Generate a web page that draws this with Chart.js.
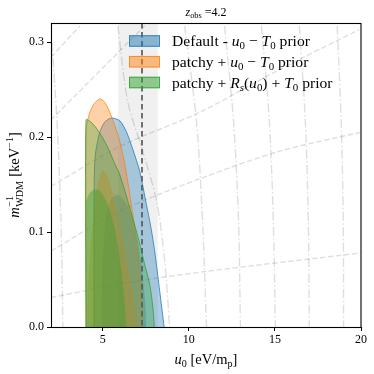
<!DOCTYPE html>
<html><head><meta charset="utf-8">
<script src="https://cdn.jsdelivr.net/npm/chart.js@4/dist/chart.umd.min.js"></script>
<style>html,body{margin:0;padding:0;background:#fff}#wrap{width:374px;height:374px}</style>
</head><body><div id="wrap"><canvas id="c" width="374" height="374"></canvas></div>
<script>
// ---- axes / annotations ----
const xRange = [2, 20];
const yRange = [0, 0.32];
const xTicks = [5, 10, 15, 20];
const yTicks = [0.0, 0.1, 0.2, 0.3];
const zObs = "4.2";
const bandU = [5.9, 8.2];      // grey shaded band
const refLineU = 7.3;          // dashed vertical line

// ---- series labels (rich text segments) ----
const labelDefault = [["Default - ","r"],["u","i"],["0","sub"],[" \u2212 ","r"],["T","i"],["0","sub"],[" prior","r"]];
const labelPatchy  = [["patchy + ","r"],["u","i"],["0","sub"],[" \u2212 ","r"],["T","i"],["0","sub"],[" prior","r"]];
const labelPatchyRs= [["patchy + ","r"],["R","i"],["s","subi"],["(","r"],["u","i"],["0","sub"],[") + ","r"],["T","i"],["0","sub"],[" prior","r"]];

// ---- contour boundaries (u0, 1/m_WDM) ----
const blueOuterU = [4.50,4.50,4.52,4.60,4.84,5.13,5.52,6.00,6.38,6.75,7.15,7.54,7.79,8.02,8.31,8.57];
const blueOuterM = [0,0.132,0.164,0.185,0.2055,0.216,0.220,0.217,0.2055,0.187,0.164,0.129,0.106,0.080,0.038,0];
const blueInnerU = [4.94,4.97,5.03,5.22,5.50,5.90,6.30,6.67,7.00,7.25,7.45,7.54];
const blueInnerM = [0,0.050,0.077,0.119,0.135,0.139,0.132,0.118,0.094,0.066,0.030,0];

const orangeOuterU = [4.03,4.03,4.10,4.26,4.50,4.84,5.10,5.32,5.71,6.00,6.28,6.57,6.86,7.10,7.25,7.33];
const orangeOuterM = [0,0.2055,0.215,0.226,0.235,0.240,0.237,0.230,0.212,0.195,0.172,0.140,0.105,0.065,0.030,0];
const orangeInnerU = [4.10,4.15,4.26,4.45,4.65,4.99,5.25,5.51,5.80,6.10,6.40,6.70,6.90,7.05];
const orangeInnerM = [0,0.040,0.077,0.115,0.146,0.1655,0.160,0.146,0.125,0.098,0.070,0.040,0.018,0];

const greenOuterU = [4.03,4.03,4.30,4.65,5.00,5.32,5.70,6.00,6.50,7.06,7.45,7.73,7.92,8.00];
const greenOuterM = [0,0.218,0.216,0.209,0.199,0.188,0.172,0.160,0.130,0.094,0.065,0.045,0.020,0];
const greenInnerU = [4.03,4.03,4.10,4.30,4.60,4.90,5.22,5.50,5.71,5.90,6.09,6.25,6.38];
const greenInnerM = [0,0.130,0.136,0.142,0.145,0.142,0.132,0.118,0.104,0.083,0.059,0.030,0];

// ---- faint background guide curves ----
const dashU = [
  [2.0, 6.57, 11.21, 20.0],
  [2.0, 6.0, 10.63, 15.26, 20.0],
  [2.0, 6.0, 10.63, 15.26, 19.9],
  [2.0, 7.44],
  [2.0, 3.68]
];
const dashM = [
  [0.031, 0.047, 0.059, 0.078],
  [0.080, 0.122, 0.156, 0.185, 0.205],
  [0.148, 0.190, 0.226, 0.271, 0.313],
  [0.218, 0.317],
  [0.284, 0.317]
];
const dashDotU = [
  [2.06, 2.35, 2.58, 2.69],
  [5.88, 6.46, 7.33, 8.14, 8.60, 8.89],
  [9.76, 10.45, 10.80, 11.03],
  [12.08, 12.60, 12.89, 13.00],
  [14.22, 14.68, 14.91, 15.03],
  [16.42, 16.77, 16.94, 17.00],
  [18.62, 18.85, 18.97, 18.99]
];
const dashDotM = [
  [0.299, 0.216, 0.111, 0],
  [0.317, 0.237, 0.185, 0.132, 0.070, 0],
  [0.317, 0.216, 0.111, 0],
  [0.317, 0.216, 0.111, 0],
  [0.317, 0.216, 0.111, 0],
  [0.317, 0.216, 0.111, 0],
  [0.317, 0.216, 0.111, 0]
];

const C_BLUE = [31,119,180], C_ORANGE = [255,127,14], C_GREEN = [44,160,44];
const rgba = (c,a)=>`rgba(${c[0]},${c[1]},${c[2]},${a})`;
const pts = (u,m)=>u.map((x,i)=>({x:x, y:m[i]}));
const SERIF = '"Liberation Serif", "DejaVu Serif", serif';

const datasets = [];
dashU.forEach((u,i)=>datasets.push({data:pts(u,dashM[i]), borderColor:'rgba(0,0,0,0.13)', borderWidth:1.4, borderDash:[5.5,2.5], pointRadius:0, fill:false, tension:0.3, order:100}));
dashDotU.forEach((u,i)=>datasets.push({data:pts(u,dashDotM[i]), borderColor:'rgba(0,0,0,0.13)', borderWidth:1.4, borderDash:[9,2.5,1.5,2.5], pointRadius:0, fill:false, tension:0.3, order:100}));

function contour(u,m,c,alpha,edge,order){
  return {data:pts(u,m), borderColor: edge ? rgba(c,0.85) : 'rgba(0,0,0,0)', borderWidth: edge?0.9:0,
          backgroundColor: rgba(c,alpha), fill:'origin', pointRadius:0, tension:0.25, order:order};
}
datasets.push(contour(blueOuterU, blueOuterM, C_BLUE, 0.36, true, 60));
datasets.push(contour(blueInnerU, blueInnerM, C_BLUE, 0.33, false, 50));
datasets.push(contour(orangeOuterU, orangeOuterM, C_ORANGE, 0.36, true, 40));
datasets.push(contour(orangeInnerU, orangeInnerM, C_ORANGE, 0.33, false, 30));
datasets.push(contour(greenOuterU, greenOuterM, C_GREEN, 0.32, true, 20));
datasets.push(contour(greenInnerU, greenInnerM, C_GREEN, 0.38, false, 10));

// rich text helpers
function segFont(type,size){
  const s = (type==='sub'||type==='subi'||type==='sup') ? size*0.7 : size;
  const it = (type==='i'||type==='subi') ? 'italic ' : '';
  return it + s + 'px ' + SERIF;
}
function richWidth(ctx,segs,size){
  let w=0; segs.forEach(([t,ty])=>{ctx.font=segFont(ty,size); w+=ctx.measureText(t).width;}); return w;
}
function drawRich(ctx,segs,x,y,size,align){
  let w = richWidth(ctx,segs,size);
  let cx = align==='center' ? x - w/2 : x;
  ctx.textBaseline='alphabetic'; ctx.textAlign='left'; ctx.fillStyle='#000';
  segs.forEach(([t,ty])=>{
    ctx.font=segFont(ty,size);
    let dy = 0;
    if (ty==='sub'||ty==='subi') dy = size*0.22;
    if (ty==='sup') dy = -size*0.38;
    ctx.fillText(t,cx,y+dy);
    cx += ctx.measureText(t).width;
  });
}

const legendItems = [[labelDefault,C_BLUE],[labelPatchy,C_ORANGE],[labelPatchyRs,C_GREEN]];

const decor = {
  id:'decor',
  beforeDatasetsDraw(chart){
    const {ctx, chartArea:a, scales:{x}} = chart;
    ctx.save();
    const x0 = x.getPixelForValue(bandU[0]), x1 = x.getPixelForValue(bandU[1]);
    ctx.fillStyle='rgba(0,0,0,0.06)';
    ctx.fillRect(x0, a.top, x1-x0, a.bottom-a.top);
    ctx.restore();
  },
  afterDatasetsDraw(chart){
    const {ctx, chartArea:a, scales:{x}} = chart;
    ctx.save();
    const xl = Math.round(x.getPixelForValue(refLineU));
    ctx.strokeStyle='rgba(90,90,90,0.85)'; ctx.lineWidth=2; ctx.setLineDash([5.5,3.5]);
    ctx.beginPath(); ctx.moveTo(xl,a.top); ctx.lineTo(xl,a.bottom); ctx.stroke();
    ctx.restore();
  },
  afterDraw(chart){
    const {ctx, chartArea:a} = chart;
    ctx.save();
    // frame
    ctx.strokeStyle='#000'; ctx.lineWidth=1.1; ctx.setLineDash([]);
    ctx.strokeRect(Math.round(a.left)+0.5, Math.round(a.top)+0.5, Math.round(a.right-a.left)-0.5, Math.round(a.bottom-a.top));
    // title
    drawRich(ctx, [["z","i"],["obs","sub"],[" =" + zObs,"r"]], (a.left+a.right)/2, 15.5, 12, 'center');
    // x label
    drawRich(ctx, [["u","i"],["0","sub"],[" [eV/m","r"],["p","sub"],["]","r"]], (a.left+a.right)/2, 364, 14.5, 'center');
    // y label (rotated)
    ctx.save();
    ctx.translate(19, (a.top+a.bottom)/2);
    ctx.rotate(-Math.PI/2);
    const size=14.5;
    const segsAfter=[[" [keV","r"],["\u22121","sup"],["]","r"]];
    ctx.font=segFont('i',size); const wm=ctx.measureText('m').width;
    ctx.font=segFont('sub',size); const wsup=ctx.measureText('\u22121').width, wsub=ctx.measureText('WDM').width;
    const wss=Math.max(wsup,wsub)+1;
    const total = wm + wss + richWidth(ctx,segsAfter,size);
    let sx = -total/2;
    ctx.fillStyle='#000'; ctx.textAlign='left'; ctx.textBaseline='alphabetic';
    ctx.font=segFont('i',size); ctx.fillText('m',sx,0); sx+=wm;
    ctx.font=segFont('sub',size); ctx.fillText('\u22121',sx+0.5,-size*0.42); ctx.fillText('WDM',sx+0.5,size*0.3); sx+=wss;
    drawRich(ctx,segsAfter,sx,0,size,'left');
    ctx.restore();
    // legend
    const lx = 129, pw = 31, ph = 11.5, tx = 172, rows=[41,61.7,82.5];
    legendItems.forEach(([segs,c],i)=>{
      const cy = rows[i];
      ctx.fillStyle=rgba(c,0.5); ctx.fillRect(lx, cy-ph/2, pw, ph);
      ctx.strokeStyle=rgba(c,0.8); ctx.lineWidth=1; ctx.strokeRect(lx+0.5, cy-ph/2+0.5, pw-1, ph-1);
      drawRich(ctx, segs, tx, cy+5, 15.6, 'left');
    });
    ctx.restore();
  }
};

new Chart(document.getElementById('c'), {
  type:'line',
  data:{datasets},
  options:{
    responsive:false, animation:false, devicePixelRatio:1,
    layout:{padding:{top:23, right:13, left:0, bottom:0}},
    plugins:{legend:{display:false}, tooltip:{enabled:false}, title:{display:false}},
    scales:{
      x:{type:'linear', min:xRange[0], max:xRange[1],
         afterBuildTicks:s=>{s.ticks=xTicks.map(v=>({value:v}));},
         afterFit:s=>{s.height=47;},
         ticks:{color:'#000', font:{family:SERIF, size:12}, padding:2, maxRotation:0, callback:v=>String(v)},
         grid:{drawOnChartArea:false, tickLength:4, color:'#000', tickWidth:1},
         border:{display:true, color:'#000', width:1}},
      y:{type:'linear', min:yRange[0], max:yRange[1],
         afterBuildTicks:s=>{s.ticks=yTicks.map(v=>({value:v}));},
         afterFit:s=>{s.width=51;},
         ticks:{color:'#000', font:{family:SERIF, size:12}, padding:3, callback:v=>Number(v).toFixed(1)},
         grid:{drawOnChartArea:false, tickLength:4, color:'#000', tickWidth:1},
         border:{display:true, color:'#000', width:1}}
    }
  },
  plugins:[decor]
});
</script>
</body></html>
